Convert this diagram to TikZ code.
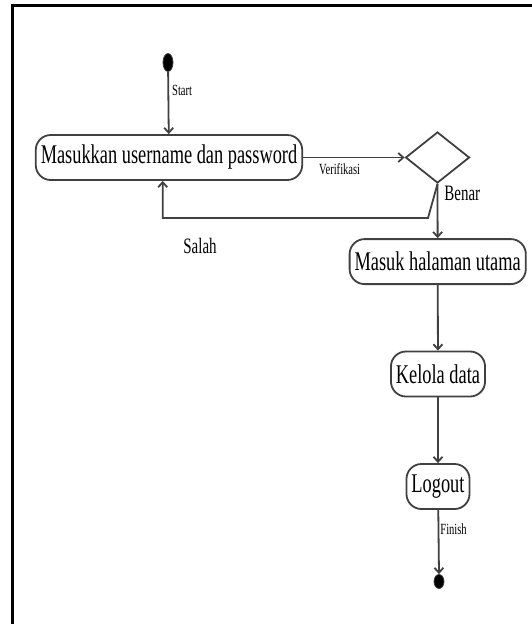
\documentclass[tikz,border=0pt]{standalone}
\usepackage{graphicx}
\usepackage{fontspec}
\setmainfont{Liberation Serif}
\usetikzlibrary{shapes.geometric,arrows.meta}
\definecolor{linegray}{RGB}{64,64,64}
\newcommand{\sqz}[2]{{\fontsize{#1}{#1}\selectfont\scalebox{0.68}[1]{#2}}}

\begin{document}
\begin{tikzpicture}[x=1pt,y=-1pt,
    act/.style={draw=linegray,line width=1.8pt,rounded corners=15pt,minimum height=45pt,inner xsep=5pt,inner ysep=0pt},
    dot/.style={ellipse,fill=black,draw=linegray,line width=0.8pt,inner sep=0pt},
    flow/.style={draw=linegray,line width=1.8pt,-{Straight Barb[length=5pt,width=9pt]}},
    lbl/.style={inner sep=1pt}]
      \useasboundingbox (0,0) rectangle (532,624);
      \draw[line width=3pt] (12.5,624) -- (12.5,5) -- (532,5);
      \node[dot,minimum width=10pt,minimum height=18pt](start) at (168,62.5) {};
      \node[act](login) at (169,157.5) {\sqz{27}{Masukkan username dan password}};
      \node[diamond,draw=linegray,line width=1.8pt,minimum width=64pt,minimum height=51pt,inner sep=0pt](cek) at (437.5,157.5) {};
      \node[act](utama) at (437.7,261.6) {\sqz{27}{Masuk halaman utama}};
      \node[act](kelola) at (438,374) {\sqz{27}{Kelola data}};
      \node[act](logout) at (438,486.5) {\sqz{27}{Logout}};
      \node[dot,minimum width=10pt,minimum height=14pt](finish) at (439,581.5) {};
      \coordinate(bend) at (428,218);
      \coordinate(back) at (162.7,218);
      \node[lbl](salah) at (200,245.5) {\sqz{22}{Salah}};
            \path[flow] (start) -- node[lbl,pos=0.3,right,xshift=2pt] {\sqz{15.5}{Start}} (login);
      \path[flow] (login) -- node[lbl,pos=0.36,below,yshift=-4pt] {\sqz{15.5}{Verifikasi}} (cek.west);
      \path[flow] (cek.south) -- node[lbl,pos=0.18,right,xshift=5pt] {\sqz{22}{Benar}} (utama);
      \path[flow] (cek.south) -- (bend) -- (back) -- (back |- login.south);
      \path[flow] (utama) -- (kelola);
      \path[flow] (kelola) -- (logout);
      \path[flow] (logout) -- node[lbl,pos=0.3,right] {\sqz{15.5}{Finish}} (finish.north);
    \end{tikzpicture}
\end{document}
